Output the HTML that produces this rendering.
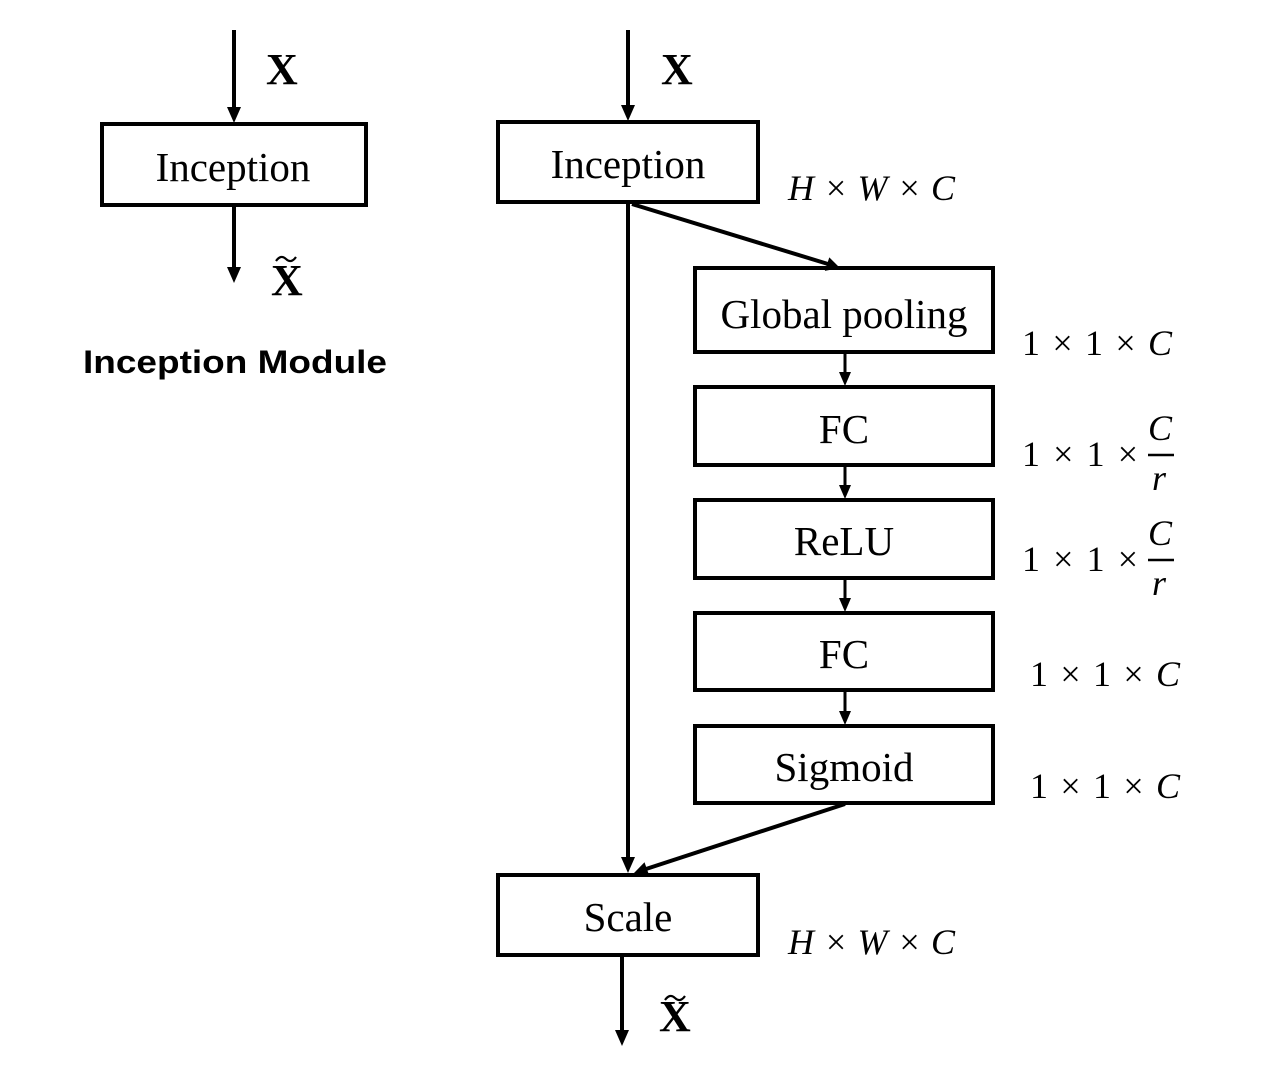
<!DOCTYPE html>
<html><head><style>html,body{margin:0;padding:0;background:#fff;}svg{display:block}</style></head>
<body>
<svg width="1278" height="1068" viewBox="0 0 1278 1068" xmlns="http://www.w3.org/2000/svg">
<g stroke="#000" stroke-width="4" fill="none">
<line x1="234" y1="30" x2="234" y2="110"/>
<rect x="102" y="124" width="264" height="81"/>
<line x1="234" y1="205" x2="234" y2="270"/>
<line x1="628" y1="30" x2="628" y2="108"/>
<rect x="498" y="122" width="260" height="80"/>
<line x1="628" y1="202" x2="628" y2="860"/>
<line x1="632" y1="204" x2="828" y2="264"/>
<rect x="695" y="268" width="298" height="84"/>
<line x1="845" y1="352" x2="845" y2="375" stroke-width="3"/>
<rect x="695" y="387" width="298" height="78"/>
<line x1="845" y1="465" x2="845" y2="488" stroke-width="3"/>
<rect x="695" y="500" width="298" height="78"/>
<line x1="845" y1="578" x2="845" y2="601" stroke-width="3"/>
<rect x="695" y="613" width="298" height="77"/>
<line x1="845" y1="690" x2="845" y2="714" stroke-width="3"/>
<rect x="695" y="726" width="298" height="77"/>
<line x1="845" y1="804" x2="646" y2="869"/>
<rect x="498" y="875" width="260" height="80"/>
<line x1="622" y1="955" x2="622" y2="1033"/>
<line x1="1148" y1="455" x2="1174" y2="455" stroke-width="2.5"/>
<line x1="1148" y1="560" x2="1174" y2="560" stroke-width="2.5"/>
<path d="M276,261 q5,-7 10,-2 t10,-2" stroke-width="2.2"/>
<path d="M665,1000 q5,-7 10,-2 t10,-2" stroke-width="2.2"/>
</g>
<g fill="#000">
<polygon points="227,107 241,107 234,123"/>
<polygon points="227,267 241,267 234,283"/>
<polygon points="621,105 635,105 628,121"/>
<polygon points="621,857 635,857 628,873"/>
<polygon points="824.8,270.9 829.3,257.4 840,268"/>
<polygon points="839,372 851,372 845,386"/>
<polygon points="839,485 851,485 845,499"/>
<polygon points="839,598 851,598 845,612"/>
<polygon points="839,711 851,711 845,725"/>
<polygon points="649.3,875.7 644.5,862.3 634,873"/>
<polygon points="615,1030 629,1030 622,1046"/>
</g>
<g font-family="Liberation Serif, serif" font-size="41" text-anchor="middle" fill="#000">
<text x="233" y="181">Inception</text>
<text x="628" y="178">Inception</text>
<text x="844" y="328">Global pooling</text>
<text x="844" y="443">FC</text>
<text x="844" y="555">ReLU</text>
<text x="844" y="668">FC</text>
<text x="844" y="781">Sigmoid</text>
<text x="628" y="931">Scale</text>
</g>
<g font-family="Liberation Serif, serif" font-weight="bold" font-size="44" fill="#000">
<text x="266" y="84">X</text>
<text x="661" y="84">X</text>
<text x="271" y="295">X</text>
<text x="659" y="1031">X</text>
</g>
<text x="83" y="373" font-family="Liberation Sans, sans-serif" font-weight="bold" font-size="32" textLength="304" lengthAdjust="spacingAndGlyphs">Inception Module</text>
<g font-family="Liberation Serif, serif" font-size="36" fill="#000">
<text x="788" y="200" font-style="italic" textLength="167">H × W × C</text>
<text x="788" y="954" font-style="italic" textLength="167">H × W × C</text>
<text x="1022" y="355" textLength="150">1 × 1 × <tspan font-style="italic">C</tspan></text>
<text x="1022" y="466" textLength="116">1 × 1 ×</text>
<text x="1148" y="440" font-style="italic">C</text>
<text x="1152" y="490" font-style="italic">r</text>
<text x="1022" y="571" textLength="116">1 × 1 ×</text>
<text x="1148" y="545" font-style="italic">C</text>
<text x="1152" y="595" font-style="italic">r</text>
<text x="1030" y="686" textLength="150">1 × 1 × <tspan font-style="italic">C</tspan></text>
<text x="1030" y="798" textLength="150">1 × 1 × <tspan font-style="italic">C</tspan></text>
</g>
</svg>
</body></html>
